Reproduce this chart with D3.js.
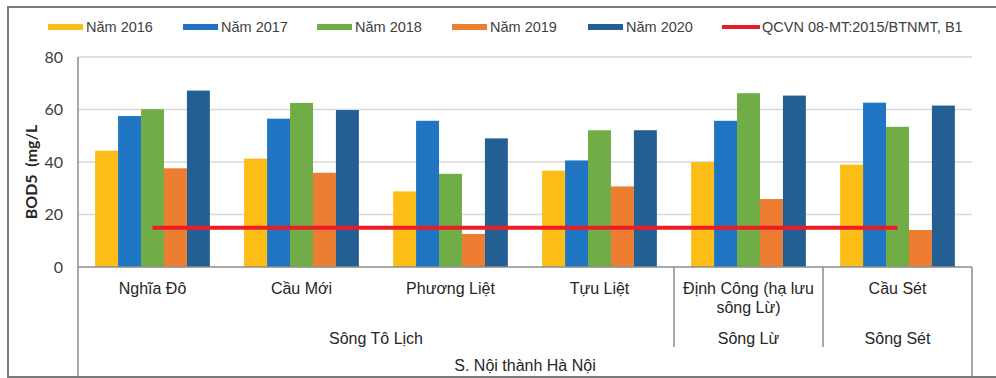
<!DOCTYPE html>
<html>
<head>
<meta charset="utf-8">
<script src="https://cdn.jsdelivr.net/npm/d3@7"></script>
<style>
  body { margin: 0; background: #fff; }
  svg { display: block; }
</style>
</head>
<body>
<div class="bod-chart"></div>
<script>
// stations (level 1), rivers (level 2), region (level 3)
const categories = ["Nghĩa Đô", "Cầu Mới", "Phương Liệt", "Tựu Liệt", "Định Công (hạ lưu sông Lừ)", "Cầu Sét"]
const riverNames = ["Sông Tô Lịch", "Sông Lừ", "Sông Sét"]
const riverOf = [0, 0, 0, 0, 1, 2]
const regionName = "S. Nội thành Hà Nội"

const years = ["Năm 2016", "Năm 2017", "Năm 2018", "Năm 2019", "Năm 2020"]
const v2016 = [44.3, 41.3, 28.8, 36.7, 40.0, 39.0]
const v2017 = [57.5, 56.5, 55.7, 40.6, 55.7, 62.6]
const v2018 = [60.1, 62.5, 35.5, 52.1, 66.2, 53.4]
const v2019 = [37.6, 35.9, 12.6, 30.7, 25.9, 14.1]
const v2020 = [67.2, 59.8, 49.0, 52.1, 65.3, 61.5]
const standardName = "QCVN 08-MT:2015/BTNMT, B1"
const standard = [15, 15, 15, 15, 15, 15]
const yTicks = [0, 20, 40, 60, 80]

const series = [v2016, v2017, v2018, v2019, v2020]
const colors = ["#fbbd16", "#1f75c1", "#70ad47", "#ed7d31", "#245f93"]
const red = "#ec1c24"

const width = 996,
    height = 378,
    margin = {top: 57, right: 24, bottom: 111, left: 78}

const svg = d3.select(".bod-chart")
    .append("svg")
    .attr("width", width)
    .attr("height", height)

// outer frame
svg.append("path")
    .attr("d", `M${width},7 H8 V377 H${width}`)
    .attr("fill", "none")
    .attr("stroke", "#7a7a7a")
    .attr("stroke-width", 2)

const x0 = d3.scaleBand()
    .domain(categories)
    .range([margin.left, width - margin.right])
    .paddingInner(0.23)
    .paddingOuter(0.115)

const x1 = d3.scaleBand()
    .domain(years)
    .range([0, x0.bandwidth()])

const y = d3.scaleLinear()
    .domain([0, 80])
    .range([height - margin.bottom, margin.top])

const plotRight = width - margin.right

// gridlines
svg.append("g")
    .selectAll("line")
    .data(yTicks.slice(1))
    .join("line")
    .attr("x1", margin.left)
    .attr("x2", plotRight)
    .attr("y1", d => y(d))
    .attr("y2", d => y(d))
    .attr("stroke", "#d9d9d9")
    .attr("stroke-width", 1.5)

// y tick labels
svg.append("g")
    .selectAll("text")
    .data(yTicks)
    .join("text")
    .attr("x", margin.left - 15)
    .attr("y", d => y(d))
    .attr("dy", "0.35em")
    .attr("text-anchor", "end")
    .style("font", "16px Lato, sans-serif")
    .style("fill", "#404040")
    .text(d => d)

svg.append("text")
    .attr("transform", `translate(37,${(y(0) + y(80)) / 2 + 10}) rotate(-90)`)
    .attr("text-anchor", "middle")
    .style("font", "bold 16px Lato, sans-serif")
    .style("fill", "#262626")
    .style("white-space", "pre")
    .text("BOD5  (mg/L")

// bars
svg.append("g")
    .selectAll("g")
    .data(series)
    .join("g")
    .attr("fill", (d, i) => colors[i])
    .selectAll("rect")
    .data((d, i) => d.map((v, j) => ({v, cat: categories[j], yr: years[i]})))
    .join("rect")
    .attr("x", d => x0(d.cat) + x1(d.yr))
    .attr("width", x1.bandwidth())
    .attr("y", d => y(d.v))
    .attr("height", d => y(0) - y(d.v))

// standard line
const line = d3.line()
    .x((d, i) => x0(categories[i]) + x0.bandwidth() / 2)
    .y(d => y(d))

svg.append("path")
    .datum(standard)
    .attr("d", line)
    .attr("fill", "none")
    .attr("stroke", red)
    .attr("stroke-width", 4)

// category axis table
const axisY = y(0)
const axis = svg.append("g")
    .attr("stroke", "#8c8c8c")
    .attr("stroke-width", 1.5)

axis.append("line")
    .attr("x1", margin.left).attr("x2", plotRight)
    .attr("y1", axisY).attr("y2", axisY)
axis.append("line")
    .attr("x1", margin.left).attr("x2", margin.left)
    .attr("y1", margin.top).attr("y2", 377)
axis.append("line")
    .attr("x1", plotRight).attr("x2", plotRight)
    .attr("y1", axisY).attr("y2", 377)

// river boundaries
const riverSpans = riverNames.map((name, r) => {
    const idx = riverOf.map((d, i) => d === r ? i : -1).filter(i => i >= 0)
    const step = x0.step()
    const start = x0(categories[idx[0]]) - step * x0.paddingInner() / 2
    const end = x0(categories[idx[idx.length - 1]]) + x0.bandwidth() + step * x0.paddingInner() / 2
    return {name, start, end}
})

axis.selectAll(".sep")
    .data(riverSpans.slice(1))
    .join("line")
    .attr("x1", d => d.start).attr("x2", d => d.start)
    .attr("y1", axisY).attr("y2", 347)

const labelFont = "16px 'Liberation Sans', Arial, sans-serif"

const catLabels = svg.append("g")
    .selectAll("text")
    .data(categories)
    .join("text")
    .attr("x", d => x0(d) + x0.bandwidth() / 2)
    .attr("y", 294)
    .attr("text-anchor", "middle")
    .style("font", labelFont)
    .style("fill", "#262626")
    .text(d => d)
    .each(function (d) { wrap(d3.select(this), x0.step() - 6) })

svg.append("g")
    .selectAll("text")
    .data(riverSpans)
    .join("text")
    .attr("x", d => (d.start + d.end) / 2)
    .attr("y", 344)
    .attr("text-anchor", "middle")
    .style("font", labelFont)
    .style("fill", "#262626")
    .text(d => d.name)

svg.append("text")
    .attr("x", (margin.left + plotRight) / 2)
    .attr("y", 371)
    .attr("text-anchor", "middle")
    .style("font", labelFont)
    .style("fill", "#262626")
    .text(regionName)

function wrap(text, maxWidth) {
    const words = text.text().split(" ")
    const x = text.attr("x")
    const yy = text.attr("y")
    text.text(null)
    let lineWords = []
    let lineNo = 0
    let tspan = text.append("tspan").attr("x", x).attr("y", yy)
    words.forEach(w => {
        lineWords.push(w)
        tspan.text(lineWords.join(" "))
        if (tspan.node().getComputedTextLength() > maxWidth && lineWords.length > 1) {
            lineWords.pop()
            tspan.text(lineWords.join(" "))
            lineWords = [w]
            lineNo++
            tspan = text.append("tspan").attr("x", x).attr("dy", "1.2em").text(w)
        }
    })
}

// legend
const legendItems = years.map((name, i) => ({name, color: colors[i], line: false}))
legendItems.push({name: standardName, color: red, line: true})
const legendX = [48, 183, 317, 452, 588, 722]

const legend = svg.append("g")
    .selectAll("g")
    .data(legendItems)
    .join("g")
    .attr("transform", (d, i) => `translate(${legendX[i]},27)`)

legend.append("rect")
    .attr("x", 0)
    .attr("width", d => d.line ? 38 : 35)
    .attr("y", d => d.line ? -2 : -3)
    .attr("height", d => d.line ? 4 : 6)
    .attr("fill", d => d.color)

legend.append("text")
    .attr("x", d => d.line ? 40 : 38)
    .attr("dy", "0.35em")
    .style("font", "14.5px 'Liberation Sans', Arial, sans-serif")
    .style("fill", "#404040")
    .text(d => d.name)
</script>
</body>
</html>
